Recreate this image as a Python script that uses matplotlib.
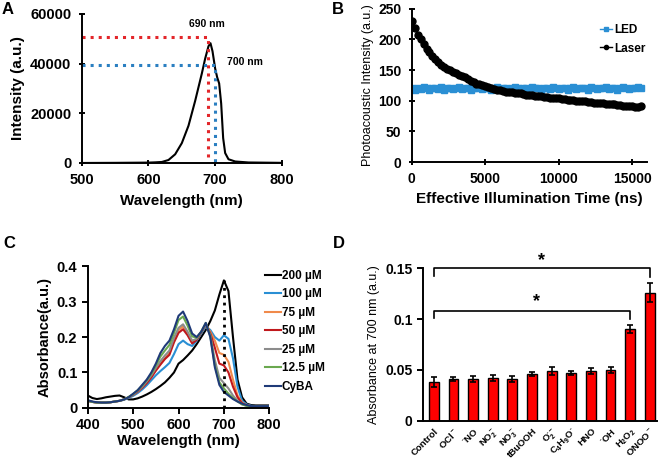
import numpy as np
import matplotlib
matplotlib.use("Agg")
from matplotlib import pyplot as plt

plt.rcParams['font.family'] = ['Liberation Sans', 'DejaVu Sans']
plt.rcParams['font.weight'] = 'bold'
plt.rcParams['axes.labelweight'] = 'bold'
plt.rcParams['mathtext.fontset'] = 'custom'
plt.rcParams['mathtext.rm'] = 'Liberation Sans:bold'
plt.rcParams['mathtext.bf'] = 'Liberation Sans:bold'
plt.rcParams['mathtext.it'] = 'Liberation Sans:bold:italic'

# --- A: light source spectrum ---
a_wl = [500, 550, 600, 610, 620, 630, 640, 650, 660, 670, 680, 685, 690, 693, 696,
        700, 703, 706, 709, 712, 715, 720, 730, 750, 800]
a_int = [0, 50, 150, 250, 400, 1200, 3500, 8000, 15000, 25000, 36000, 42000, 47000,
         48200, 45000, 38000, 34500, 32000, 24000, 10000, 4000, 1500, 600, 200, 50]
a_marks = [690, 700]
a_mark_int = [50500, 39500]

# --- B: photoacoustic intensity vs illumination time ---
b_step = 200
led = [120, 118, 121, 119, 122, 120, 117, 121, 120, 119, 122, 118, 120, 121, 119, 120,
       122, 119, 121, 120, 118, 121, 120, 122, 119, 120, 121, 118, 120, 122, 119, 121,
       120, 119, 121, 122, 120, 118, 121, 120, 119, 122, 120, 121, 118, 120, 121, 119,
       122, 120, 119, 121, 120, 118, 121, 122, 119, 120, 121, 120, 118, 122, 120, 119,
       121, 120, 122, 119, 120, 121, 118, 120, 122, 120, 119, 121, 120, 122, 121]
laser = [230, 218, 208, 200, 192, 185, 179, 173, 168, 163, 159, 155, 152, 150, 147,
         145, 142, 140, 138, 135, 132, 130, 128, 127, 125, 124, 122, 121, 119, 118,
         117, 116, 115, 114, 115, 113, 112, 112, 111, 110, 109, 109, 108, 107, 107,
         106, 106, 105, 105, 104, 104, 103, 103, 102, 101, 101, 100, 100, 99, 99,
         98, 98, 97, 97, 96, 96, 95, 95, 94, 94, 93, 93, 92, 92, 91, 91, 90, 90, 91]

# --- C: absorbance spectra ---
c_wl = list(range(400, 801, 10))
c_labels = ['200 µM', '100 µM', '75 µM', '50 µM', '25 µM', '12.5 µM', 'CyBA']
c_colors = ['black', '#2a8fd4', '#f08a4b', '#c0181c', '#8c8c8c', '#6aa84f', '#1f3a78']
c_200 = [.035, .028, .025, .027, .030, .032, .034, .035, .030, .024, .024, .027, .032, .038,
         .045, .053, .062, .072, .085, .100, .125, .135, .148, .162, .180, .200, .220, .245,
         .275, .320, .360, .330, .200, .080, .030, .012, .008, .007, .007, .007, .007]
c_100 = [.020, .017, .015, .015, .015, .016, .018, .020, .023, .028, .034, .042, .052, .064,
         .078, .092, .104, .115, .127, .152, .180, .190, .180, .175, .190, .210, .230, .220,
         .200, .190, .205, .195, .140, .060, .020, .010, .006, .005, .005, .005, .005]
c_75 = [.020, .017, .015, .015, .015, .016, .018, .020, .024, .030, .037, .046, .058, .072,
        .088, .108, .125, .140, .155, .190, .220, .230, .210, .185, .195, .215, .235, .215,
        .190, .155, .150, .130, .080, .035, .015, .008, .005, .005, .005, .005, .005]
c_50 = [.020, .017, .015, .015, .015, .016, .018, .020, .024, .030, .037, .046, .057, .070,
        .086, .105, .122, .138, .150, .185, .212, .222, .205, .182, .192, .213, .235, .210,
        .170, .125, .120, .100, .060, .030, .013, .007, .005, .005, .005, .005, .005]
c_25 = [.020, .017, .015, .015, .015, .016, .018, .020, .024, .030, .038, .048, .060, .075,
        .092, .113, .132, .148, .162, .198, .226, .236, .215, .190, .195, .215, .236, .205,
        .135, .085, .070, .055, .035, .020, .010, .006, .005, .005, .005, .005, .005]
c_125 = [.020, .017, .015, .015, .015, .016, .018, .020, .024, .031, .039, .050, .063, .078,
         .096, .120, .145, .162, .178, .212, .248, .258, .232, .202, .198, .215, .240, .203,
         .120, .072, .055, .040, .028, .018, .010, .006, .005, .005, .005, .005, .005]
c_cyba = [.022, .018, .016, .015, .015, .016, .018, .020, .024, .030, .040, .050, .065, .080,
          .100, .125, .155, .175, .190, .222, .260, .272, .245, .210, .200, .215, .240, .200,
          .115, .065, .045, .035, .025, .018, .012, .008, .005, .005, .005, .005, .005]
c_series = [c_200, c_100, c_75, c_50, c_25, c_125, c_cyba]

# --- D: selectivity at 700 nm ---
d_labels = ['Control', r'OCl$^-$', r'$^{\bullet}$NO', r'NO$_2^-$', r'NO$_3^-$', 'tBuOOH',
            r'O$_2^{\bullet-}$', r'C$_4$H$_9$O$^{\bullet}$', 'HNO', r'$^{\bullet}$OH',
            r'H$_2$O$_2$', r'ONOO$^-$']
d_vals = [0.038, 0.041, 0.041, 0.042, 0.041, 0.046, 0.049, 0.047, 0.049, 0.050, 0.090, 0.126]
d_err = [0.005, 0.002, 0.003, 0.003, 0.003, 0.002, 0.004, 0.002, 0.003, 0.003, 0.004, 0.009]

fig = plt.figure(figsize=(6.6, 4.63), dpi=100)

def style(ax, lw=1.4):
    for s in ['top', 'right']:
        ax.spines[s].set_visible(False)
    for s in ['left', 'bottom']:
        ax.spines[s].set_linewidth(lw)

# A
axA = fig.add_axes([0.124, 0.648, 0.303, 0.322])
style(axA)
axA.plot(a_wl, a_int, color='black', lw=1.5)
axA.plot([500, a_marks[0], a_marks[0]], [a_mark_int[0], a_mark_int[0], 0], ':', color='#e3262a', lw=2.2)
axA.plot([500, a_marks[1], a_marks[1]], [a_mark_int[1], a_mark_int[1], 0], ':', color='#2a7fc1', lw=2.2)
axA.text(687, 56000, '690 nm', ha='center', va='center', fontsize=7.5)
axA.text(718, 40500, '700 nm', ha='left', va='center', fontsize=7.5)
axA.set_xlim(500, 800)
axA.set_ylim(0, 60000)
axA.set_xticks([500, 600, 700, 800])
axA.set_yticks([0, 20000, 40000, 60000])
axA.tick_params(direction='inout', length=5, width=1.4, labelsize=10.5, pad=5)
axA.set_xlabel('Wavelength (nm)', fontsize=11, labelpad=5)
axA.set_ylabel('Intensity (a.u.)', fontsize=11)

# B
axB = fig.add_axes([0.624, 0.650, 0.356, 0.331])
style(axB)
t = np.arange(len(laser)) * b_step
axB.plot(np.arange(len(led)) * b_step, led, '-s', color='#2a8fd4', ms=5, lw=1, label='LED')
axB.plot(t, laser, '-o', color='black', ms=5, lw=1, label='Laser')
axB.set_xlim(0, 16000)
axB.set_ylim(0, 250)
axB.set_xticks([0, 5000, 10000, 15000])
axB.set_yticks([0, 50, 100, 150, 200, 250])
axB.tick_params(direction='inout', length=5, width=1.4, labelsize=10, pad=5)
axB.set_xlabel('Effective Illumination Time (ns)', fontsize=11)
axB.set_ylabel('Photoacoustic Intensity (a.u.)', fontsize=9, fontweight='normal', labelpad=3)
axB.legend(loc='upper right', bbox_to_anchor=(1.04, 0.97), frameon=False, fontsize=8.5,
           handlelength=1.0, handletextpad=0.2, labelspacing=0.55, markerscale=0.6)

# C
axC = fig.add_axes([0.133, 0.119, 0.275, 0.306])
style(axC)
for ys, lab, col in zip(c_series, c_labels, c_colors):
    axC.plot(c_wl, ys, color=col, lw=1.5, label=lab)
axC.plot([700, 700], [0, max(c_200)], ':', color='black', lw=2)
axC.set_xlim(400, 800)
axC.set_ylim(0, 0.4)
axC.set_xticks([400, 500, 600, 700, 800])
axC.set_yticks([0, 0.1, 0.2, 0.3, 0.4])
axC.set_yticklabels(['0', '0.1', '0.2', '0.3', '0.4'])
axC.tick_params(direction='out', length=4, width=1.4, labelsize=10.5)
axC.set_xlabel('Wavelength (nm)', fontsize=11, labelpad=1)
axC.set_ylabel('Absorbance(a.u.)', fontsize=10.5)
axC.legend(loc='upper left', bbox_to_anchor=(0.92, 1.05), frameon=False, fontsize=8.5,
           handlelength=1.3, handletextpad=0.1, labelspacing=0.55)

# D
axD = fig.add_axes([0.641, 0.091, 0.354, 0.330])
style(axD)
x = np.arange(len(d_vals))
axD.bar(x, d_vals, width=0.5, color='#ff0000', edgecolor='black', lw=1,
        yerr=d_err, capsize=2.5, error_kw=dict(elinewidth=1.2, capthick=1.2))
axD.set_xlim(-0.55, 11.35)
axD.set_ylim(0, 0.15)
axD.set_yticks([0, 0.05, 0.1, 0.15])
axD.set_yticklabels(['0', '0.05', '0.1', '0.15'])
axD.set_xticks(x)
axD.set_xticklabels(d_labels, rotation=45, ha='right', rotation_mode='anchor', fontsize=6.8)
axD.tick_params(axis='x', length=0, pad=4)
axD.tick_params(axis='y', direction='out', length=4, width=1.4, labelsize=10)
axD.set_ylabel('Absorbance at 700 nm (a.u.)', fontsize=9, fontweight='normal')
# significance brackets
axD.plot([0, 0, 11, 11], [0.142, 0.15, 0.15, 0.141], color='black', lw=1.2, clip_on=False)
axD.plot([0, 0, 10, 10], [0.101, 0.108, 0.108, 0.100], color='black', lw=1.2, clip_on=False)
axD.text(5.5, 0.157, '*', ha='center', va='center', fontsize=13)
axD.text(5.25, 0.117, '*', ha='center', va='center', fontsize=13)

for lab, xx, yy in [('A', 0.003, 0.995), ('B', 0.503, 0.995), ('C', 0.005, 0.49), ('D', 0.505, 0.49)]:
    fig.text(xx, yy, lab, ha='left', va='top', fontsize=12)

fig.savefig('out.png', dpi=100)
